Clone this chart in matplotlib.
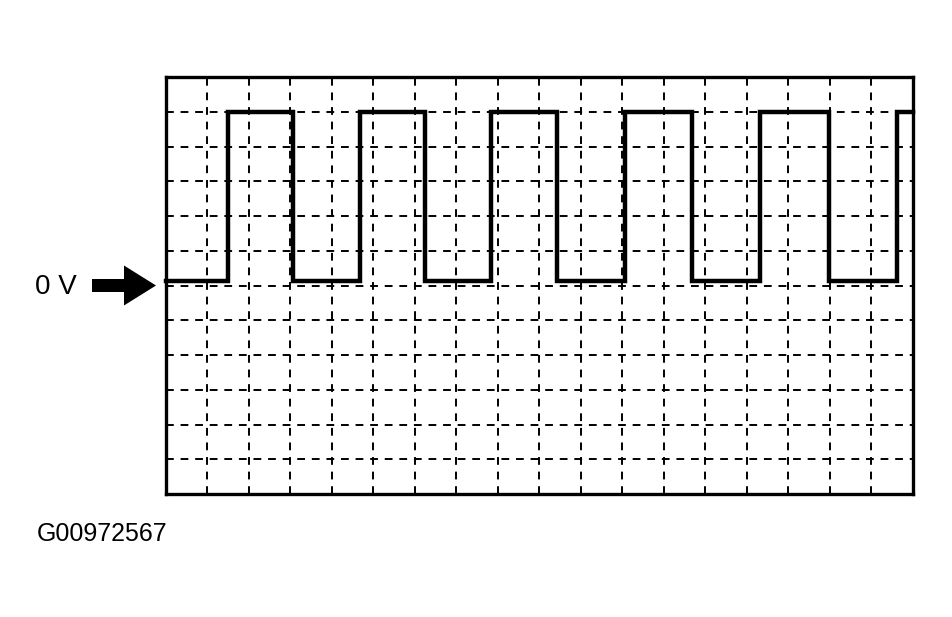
import numpy as np
import matplotlib
matplotlib.use("Agg")
from matplotlib import pyplot as plt
from matplotlib.patches import FancyArrow

# scope screen: 18 x 12 divisions, 0 V sits on division 6
n_cols = 18
n_rows = 12
zero_level = 6
low_level = 6.12
high_level = 11.0
# edge times (divisions), signal starts low
edges = [1.49, 3.06, 4.67, 6.24, 7.83, 9.42, 11.06, 12.67, 14.31, 15.98, 17.61]
label_zero = "0 V"
figure_id = "G00972567"

W, H = 953, 617
fig = plt.figure(figsize=(W / 100, H / 100), dpi=100)
fig.patch.set_facecolor("white")

left, right, top, bottom = 166, 913, 77, 494
ax = fig.add_axes([left / W, 1 - bottom / H, (right - left) / W, (bottom - top) / H])
ax.set_xlim(0, n_cols)
ax.set_ylim(0, n_rows)

for x in range(1, n_cols):
    ax.axvline(x, color="black", lw=1.4, ls=(0, (4, 3.5)), zorder=1)
for y in range(1, n_rows):
    ax.axhline(y, color="black", lw=1.4, ls=(0, (4, 3.5)), zorder=1)

xs = [0]
ys = [low_level]
level = low_level
for e in edges:
    xs += [e, e]
    nxt = high_level if level == low_level else low_level
    ys += [level, nxt]
    level = nxt
xs.append(n_cols)
ys.append(level)
ax.plot(xs, ys, color="black", lw=3.2, solid_joinstyle="miter", zorder=3, clip_on=False)

ax.set_xticks([])
ax.set_yticks([])
for s in ax.spines.values():
    s.set_linewidth(2.4)
    s.set_color("black")

# overlay in pixel coordinates for the label, arrow and id
ov = fig.add_axes([0, 0, 1, 1], zorder=5)
ov.set_xlim(0, W)
ov.set_ylim(H, 0)
ov.axis("off")
ov.patch.set_alpha(0)

y0 = top + (n_rows - zero_level) * (bottom - top) / n_rows
ov.text(35, y0 + 1, label_zero, fontsize=20, family="Liberation Sans",
        ha="left", va="center")
ov.add_patch(FancyArrow(92, y0, 64, 0, width=13, head_width=40, head_length=32,
                        length_includes_head=True, color="black", lw=0))
ov.text(37, 534, figure_id, fontsize=18, family="Liberation Sans",
        ha="left", va="center")

fig.savefig("out.png", dpi=100, facecolor="white")
